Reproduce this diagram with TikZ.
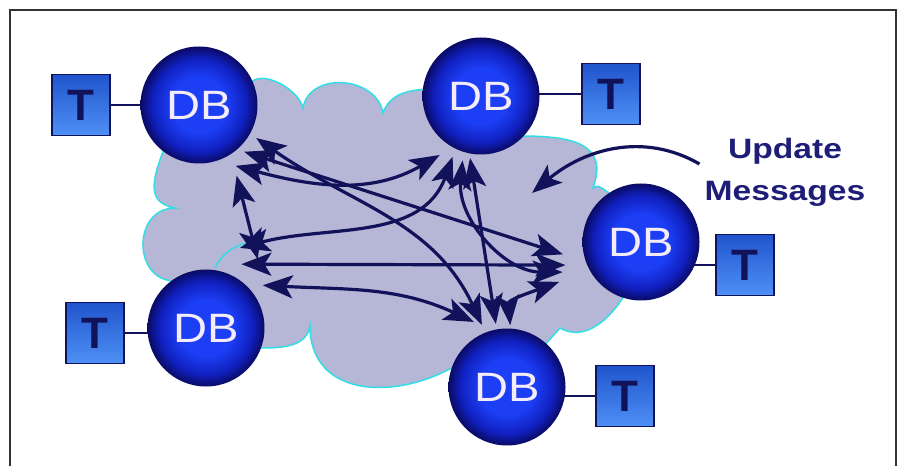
\documentclass[tikz,border=0pt]{standalone}
\usepackage{fontspec}
\usepackage{tikz}
\usetikzlibrary{arrows.meta,backgrounds}

\newfontfamily\dbfont[FakeStretch=1.15]{Liberation Sans}
\newfontfamily\lblfont[FakeStretch=1.2]{Liberation Sans}
\newfontfamily\tfont{Liberation Sans}

\definecolor{navy}{RGB}{18,18,90}
\definecolor{lblnavy}{RGB}{30,30,120}
\definecolor{dbcenter}{RGB}{28,62,245}
\definecolor{dbmid}{RGB}{16,32,190}
\definecolor{dbedge}{RGB}{10,10,100}
\definecolor{dbtext}{RGB}{245,236,250}
\definecolor{cloudfill}{RGB}{182,182,214}
\definecolor{cloudline}{RGB}{50,222,230}
\definecolor{ttop}{RGB}{32,84,205}
\definecolor{tbottom}{RGB}{78,145,245}

\pgfdeclareradialshading{dbball}{\pgfpoint{0bp}{0bp}}{%
  color(0bp)=(dbcenter); color(12bp)=(dbcenter); color(20bp)=(dbmid);
  color(25bp)=(dbedge); color(50bp)=(dbedge)}

\begin{document}
\begin{tikzpicture}[x=1pt, y=1pt,
  db/.style = {circle, minimum size=117pt, inner sep=0pt, shading=dbball,
               text=dbtext, font=\dbfont\fontsize{41}{41}\selectfont},
  tbox/.style = {rectangle, draw=navy, line width=1.5pt, minimum width=58pt,
                 minimum height=61pt, inner sep=0pt, top color=ttop,
                 bottom color=tbottom, text=navy,
                 font=\tfont\bfseries\fontsize{44}{44}\selectfont},
  link/.style = {draw=navy, line width=2.5pt},
  cloud/.style = {fill=cloudfill, draw=cloudline, line width=1.5pt},
  msg/.style = {{Stealth[length=30pt 0,width=23pt 0,inset=7pt]}-{Stealth[length=30pt 0,width=23pt 0,inset=7pt]},
                draw=navy, line width=3.2pt},
  note/.style = {-{Stealth[length=30pt 0,width=23pt 0,inset=7pt]}, draw=navy, line width=3.2pt}]

\useasboundingbox (0,0) rectangle (899,466);

% databases and terminals
\node[db]   (db1) at (199,361) {DB};
\node[tbox] (t1)  at (81,361)  {T};
\node[db]   (db2) at (481,370) {DB};
\node[tbox] (t2)  at (611,372) {T};
\node[db]   (db3) at (641,224) {DB};
\node[tbox] (t3)  at (745,201) {T};
\node[db]   (db4) at (206,138) {DB};
\node[tbox] (t4)  at (95,133)  {T};
\node[db]   (db5) at (507,79)  {DB};
\node[tbox] (t5)  at (625,70)  {T};

\begin{scope}[on background layer]
\fill[white] (0,0) rectangle (899,466);
\draw[line width=1.6pt, black!80] (10,0) -- (10,456) -- (896,456) -- (896,0);
\path[cloud] (199,361) -- (248,378)
  to[out=75, in=105] (303,358)
  to[out=80, in=100, looseness=1.2] (383,353)
  to[out=70, in=190] (455,380)
  -- (481,370) -- (520,330)
  to[out=0, in=70, looseness=1.4] (593,278)
  to[out=40, in=200] (620,270)
  -- (641,224) -- (625,172)
  to[out=-120, in=-30] (560,138)
  -- (507,79) -- (455,100)
  to[out=-150, in=-90, looseness=1.2] (310,140)
  to[out=-100, in=0] (255,118)
  -- (206,138) -- (175,185)
  to[out=180, in=180, looseness=1.5] (175,258)
  to[out=170, in=-110, looseness=1.3] (165,320)
  -- cycle;
\draw[cloudline, line width=1.5pt] (215,198) to[bend left=25] (247,223);

\draw[link] (t1.east) -- (t1.east -| db1.center);
\draw[link] (t2.west) -- (t2.west -| db2.center);
\draw[link] (t3.west) -- (t3.west -| db3.center);
\draw[link] (t4.east) -- (t4.east -| db4.center);
\draw[link] (t5.west) -- (t5.west -| db5.center);
\end{scope}

% update messages between every pair
\draw[msg] ([shift={(-59:71)}]db1.center) to[out=-15, in=210] ([shift={(-125:72)}]db2.center);
\draw[msg] ([shift={(-46:65)}]db1.center) -- ([shift={(189:79)}]db3.center);
\draw[msg] ([shift={(-30:66)}]db1.center) to[out=-35, in=115] ([shift={(112:67)}]db5.center);
\draw[msg] ([shift={(-62:80)}]db1.center) -- ([shift={(53:86)}]db4.center);
\draw[msg] ([shift={(-115:67)}]db2.center) to[out=-110, in=15] ([shift={(67:87)}]db4.center);
\draw[msg] ([shift={(-100:63)}]db2.center) -- ([shift={(100:64)}]db5.center);
\draw[msg] ([shift={(-106:67)}]db2.center) to[out=-95, in=180] ([shift={(201:84)}]db3.center);
\draw[msg] ([shift={(61:73)}]db4.center) -- ([shift={(197:79)}]db3.center);
\draw[msg] ([shift={(37:71)}]db4.center) to[out=-3, in=155] ([shift={(117:73)}]db5.center);
\draw[msg] ([shift={(87:62)}]db5.center) to[out=95, in=200] ([shift={(206:91)}]db3.center);

\node[align=center, inner sep=0pt, text=lblnavy,
      font=\lblfont\bfseries\fontsize{28}{42}\selectfont] (upd) at (785,294) {Update\\Messages};
\coordinate (msgtip) at (532,273);
\draw[note] ([shift={(-5,8)}]upd.west) to[out=150, in=40] (msgtip);
\end{tikzpicture}
\end{document}
